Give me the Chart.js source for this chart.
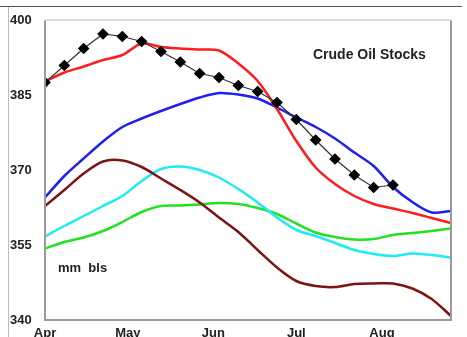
<!DOCTYPE html>
<html>
<head>
<meta charset="utf-8">
<script src="https://cdn.jsdelivr.net/npm/chart.js@4/dist/chart.umd.min.js"></script>
<style>
  html, body { margin: 0; padding: 0; background: #fff; }
  #wrap { width: 467px; height: 337px; }
</style>
</head>
<body>
<div id="wrap"><canvas id="oil"></canvas></div>
<script>
// weeks since 1 April
var weeks = [0, 1, 2, 3, 4, 5, 6, 7, 8, 9, 10, 11, 12, 13, 14, 15, 16, 17, 18, 19, 20, 21];

// month tick positions (in weeks) and labels
var monthPos = [0, 4.29, 8.71, 13.0, 17.43];
var monthLabels = ['Apr', 'May', 'Jun', 'Jul', 'Aug'];

// current year (black diamonds), weeks 0..18
var current = [387.5, 390.9, 394.3, 397.2, 396.7, 395.7, 393.7, 391.6, 389.3, 388.5, 386.9, 385.7, 383.5, 380.1, 376.0, 372.2, 369.0, 366.5, 367.0];

var redLine = [387.7, 389.5, 390.7, 392.0, 393.0, 395.3, 394.6, 394.3, 394.1, 393.9, 391.3, 387.8, 382.2, 375.8, 370.5, 367.2, 364.8, 363.2, 362.3, 361.4, 360.4, 359.4];
var blueLine = [364.5, 368.8, 372.3, 375.7, 378.6, 380.3, 381.8, 383.2, 384.5, 385.4, 385.1, 384.3, 382.5, 380.5, 378.6, 376.3, 373.5, 370.8, 366.6, 363.6, 361.5, 361.8];
var maroonLine = [362.8, 366.0, 369.3, 371.7, 371.9, 370.6, 368.3, 366.0, 363.5, 360.5, 357.6, 354.0, 350.5, 347.8, 346.8, 346.6, 347.2, 347.3, 347.3, 346.3, 344.2, 340.8];
var cyanLine = [356.7, 358.8, 360.8, 362.8, 364.8, 367.8, 370.2, 370.7, 370.0, 368.5, 366.2, 363.5, 360.5, 358.0, 356.8, 355.4, 354.0, 353.2, 352.8, 353.3, 353.0, 352.5];
var greenLine = [354.3, 355.6, 356.5, 357.8, 359.6, 361.6, 362.8, 362.9, 363.1, 363.4, 363.2, 362.4, 361.2, 359.3, 357.5, 356.6, 356.1, 356.2, 357.0, 357.4, 357.8, 358.3];

var yTicks = [340, 355, 370, 385, 400];

function pts(vals) {
  return vals.map(function (v, i) { return { x: weeks[i], y: v }; });
}

function line(vals, color) {
  return {
    data: pts(vals),
    borderColor: color,
    borderWidth: 2.5,
    pointRadius: 0,
    tension: 0.3,
    fill: false
  };
}

// frame, plot border and the two text notes
var decor = {
  id: 'decor',
  beforeDraw: function (chart) {
    var c = chart.ctx;
    c.save();
    c.fillStyle = '#fff';
    c.fillRect(0, 0, chart.width, chart.height);
    c.strokeStyle = '#555';
    c.lineWidth = 1;
    c.beginPath();
    c.moveTo(0, 6.5); c.lineTo(462, 6.5);
    c.stroke();
    c.strokeStyle = '#bbb';
    c.beginPath();
    c.moveTo(8.5, 7); c.lineTo(8.5, 337);
    c.stroke();
    c.restore();
  },
  afterDatasetsDraw: function (chart) {
    var a = chart.chartArea, c = chart.ctx;
    c.save();
    c.strokeStyle = '#999';
    c.lineWidth = 2;
    c.beginPath();
    c.moveTo(a.left, a.top); c.lineTo(a.left, a.bottom); c.lineTo(a.right, a.bottom); c.lineTo(a.right, a.top);
    c.stroke();
    c.strokeStyle = '#ddd';
    c.beginPath();
    c.moveTo(a.left, a.top); c.lineTo(a.right, a.top);
    c.stroke();
    c.fillStyle = '#222';
    c.textBaseline = 'middle';
    c.font = 'bold 14px "Liberation Sans", Arial, sans-serif';
    c.fillText('Crude Oil Stocks', 313, 55);
    c.font = 'bold 13px "Liberation Sans", Arial, sans-serif';
    c.fillText('mm  bls', 58, 268);
    c.restore();
  }
};

new Chart(document.getElementById('oil').getContext('2d'), {
  type: 'line',
  data: {
    datasets: [
      {
        data: pts(current),
        borderColor: '#333',
        borderWidth: 1.2,
        pointStyle: 'rectRot',
        pointRadius: 5,
        pointBackgroundColor: '#000',
        pointBorderColor: '#000',
        tension: 0,
        fill: false
      },
      line(redLine, '#ff1c1c'),
      line(blueLine, '#1f1fef'),
      line(maroonLine, '#7c1416'),
      line(cyanLine, '#1eecf2'),
      line(greenLine, '#22e022')
    ]
  },
  options: {
    responsive: true,
    maintainAspectRatio: false,
    animation: false,
    layout: { padding: { top: 20, right: 16, left: 10, bottom: 0 } },
    plugins: { legend: { display: false }, tooltip: { enabled: false } },
    scales: {
      x: {
        type: 'linear',
        min: 0,
        max: 21,
        grid: { display: false, drawTicks: false },
        border: { display: false },
        afterBuildTicks: function (scale) {
          scale.ticks = monthPos.map(function (v) { return { value: v }; });
        },
        afterFit: function (scale) { scale.height = 17; },
        ticks: {
          autoSkip: false,
          maxRotation: 0,
          padding: 6,
          color: '#222',
          font: { family: '"Liberation Sans", Arial, sans-serif', size: 13, weight: 'bold' },
          callback: function (v, i) { return monthLabels[i]; }
        }
      },
      y: {
        min: 340,
        max: 400,
        grid: { display: false, drawTicks: false },
        border: { display: false },
        afterBuildTicks: function (scale) {
          scale.ticks = yTicks.map(function (v) { return { value: v }; });
        },
        afterFit: function (scale) { scale.width = 35; },
        ticks: {
          crossAlign: 'far',
          padding: 0,
          color: '#222',
          font: { family: '"Liberation Sans", Arial, sans-serif', size: 13, weight: 'bold' }
        }
      }
    }
  },
  plugins: [decor]
});
</script>
</body>
</html>
